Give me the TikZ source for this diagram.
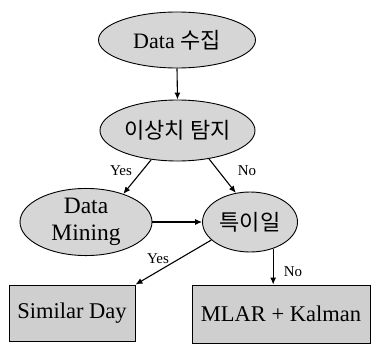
\documentclass[tikz,border=0pt]{standalone}
\usepackage{fontspec}
\setmainfont{Liberation Serif}
\newfontfamily\kr{Noto Sans CJK KR}
\usetikzlibrary{shapes.geometric,arrows.meta}
\begin{document}
\begin{tikzpicture}[x=1pt,y=-1pt,
  stage/.style={ellipse,draw=black,line width=0.9pt,fill=black!16,inner sep=0pt,
    font=\fontsize{22}{26}\selectfont,align=center},
  result/.style={rectangle,draw=black,line width=0.9pt,fill=black!19,inner sep=0pt,
    font=\fontsize{22.5}{26}\selectfont},
  flow/.style={line width=1.1pt,-{Latex[length=7pt,width=6pt]}},
  tag/.style={font=\fontsize{15}{17}\selectfont,inner sep=0pt}]
\useasboundingbox (0,0) rectangle (371,345);

\node[stage,minimum width=157pt,minimum height=56pt] (collect) at (177,40) {Data {\kr 수집}};
\node[stage,minimum width=155pt,minimum height=61pt] (detect) at (177.5,130.5) {\kr 이상치 탐지};
\node[stage,minimum width=132pt,minimum height=59pt,font=\fontsize{23.5}{27}\selectfont] (mining) at (86,222) {Data\\Mining};
\node[stage,minimum width=95pt,minimum height=60pt] (special) at (250,222) {\kr 특이일};
\node[result,minimum width=126pt,minimum height=56pt] (similar) at (72,313) {Similar Day};
\node[result,minimum width=178pt,minimum height=58pt] (mlar) at (281,314) {MLAR + Kalman};

\draw[flow] (collect.south) -- (detect.north);
\draw[flow] (detect.228) -- (mining.37);
\draw[flow] (detect.318) -- (special.116);
\draw[flow] (mining.east) -- (special.west);
\draw[flow] (special.205) -- (similar.north east);
\draw[flow] (special.311) -- (special.311 |- mlar.north);

\node[tag] (yes1) at (121,171) {Yes};
\node[tag] (no1) at (247,171) {No};
\node[tag] (yes2) at (158,259) {Yes};
\node[tag] (no2) at (293,272) {No};
\end{tikzpicture}
\end{document}
